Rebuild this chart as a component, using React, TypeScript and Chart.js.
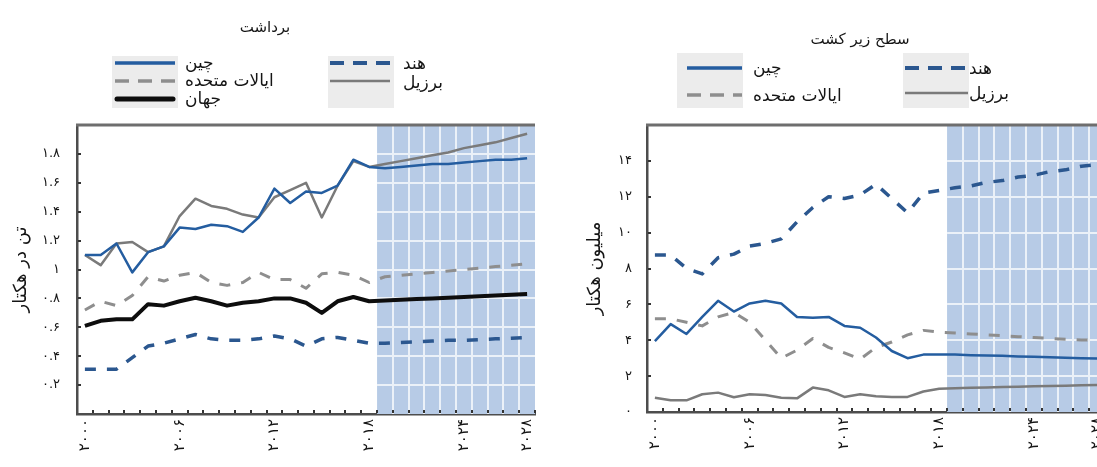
import React, { useEffect, useRef } from "react";
import { Chart, registerables } from "chart.js";

Chart.register(...registerables);

// ---------- data ----------
const years = [
  "2000", "2001", "2002", "2003", "2004", "2005", "2006", "2007", "2008", "2009",
  "2010", "2011", "2012", "2013", "2014", "2015", "2016", "2017", "2018", "2019",
  "2020", "2021", "2022", "2023", "2024", "2025", "2026", "2027", "2028",
];
const labeledYears = ["2000", "2006", "2012", "2018", "2024", "2028"];
const projectionStart = "2019";

const nameChina = "چین";
const nameIndia = "هند";
const nameUS = "ایالات متحده";
const nameBrazil = "برزیل";
const nameWorld = "جهان";

const titleYield = "برداشت";
const titleArea = "سطح زیر کشت";
const unitYield = "تن در هکتار";
const unitArea = "میلیون هکتار";

// yield, t/ha
const yieldChina = [1.10, 1.10, 1.18, 0.98, 1.12, 1.16, 1.29, 1.28, 1.31, 1.30, 1.26, 1.36, 1.56, 1.46, 1.54, 1.53, 1.58, 1.76, 1.71, 1.70, 1.71, 1.72, 1.73, 1.73, 1.74, 1.75, 1.76, 1.76, 1.77];
const yieldBrazil = [1.10, 1.03, 1.18, 1.19, 1.12, 1.16, 1.37, 1.49, 1.44, 1.42, 1.38, 1.36, 1.50, 1.55, 1.60, 1.36, 1.58, 1.75, 1.71, 1.73, 1.75, 1.77, 1.79, 1.81, 1.84, 1.86, 1.88, 1.91, 1.94];
const yieldUS = [0.72, 0.78, 0.75, 0.82, 0.95, 0.92, 0.96, 0.98, 0.91, 0.89, 0.91, 0.98, 0.93, 0.93, 0.87, 0.97, 0.98, 0.96, 0.91, 0.95, 0.96, 0.97, 0.98, 0.99, 1.00, 1.01, 1.02, 1.03, 1.04];
const yieldWorld = [0.61, 0.645, 0.655, 0.655, 0.76, 0.75, 0.78, 0.805, 0.78, 0.75, 0.77, 0.78, 0.80, 0.80, 0.77, 0.70, 0.78, 0.81, 0.78, 0.785, 0.79, 0.795, 0.80, 0.805, 0.81, 0.815, 0.82, 0.825, 0.83];
const yieldIndia = [0.31, 0.31, 0.31, 0.39, 0.47, 0.49, 0.52, 0.55, 0.52, 0.51, 0.51, 0.52, 0.54, 0.52, 0.47, 0.52, 0.53, 0.51, 0.49, 0.49, 0.495, 0.50, 0.505, 0.51, 0.51, 0.515, 0.52, 0.525, 0.53];

// area harvested, million ha
const areaChina = [3.95, 4.9, 4.35, 5.3, 6.2, 5.6, 6.05, 6.2, 6.05, 5.3, 5.25, 5.3, 4.8, 4.7, 4.15, 3.4, 3.0, 3.2, 3.2, 3.2, 3.17, 3.15, 3.13, 3.1, 3.08, 3.05, 3.03, 3.0, 2.98];
const areaIndia = [8.75, 8.75, 8.0, 7.7, 8.6, 8.8, 9.25, 9.4, 9.65, 10.6, 11.4, 12.0, 11.9, 12.1, 12.7, 11.9, 11.1, 12.2, 12.35, 12.5, 12.6, 12.8, 12.9, 13.1, 13.2, 13.4, 13.5, 13.7, 13.8];
const areaUS = [5.2, 5.2, 5.0, 4.8, 5.3, 5.55, 5.0, 4.0, 3.0, 3.45, 4.1, 3.6, 3.3, 2.95, 3.6, 3.9, 4.3, 4.55, 4.45, 4.4, 4.35, 4.3, 4.25, 4.2, 4.15, 4.1, 4.05, 4.02, 4.0];
const areaBrazil = [0.8, 0.65, 0.65, 0.99, 1.08, 0.82, 0.99, 0.95, 0.8, 0.76, 1.36, 1.21, 0.84, 0.99, 0.88, 0.84, 0.84, 1.14, 1.3, 1.33, 1.35, 1.37, 1.39, 1.41, 1.43, 1.45, 1.47, 1.49, 1.51];

// ---------- styles ----------
const FONT = "'DejaVu Sans', sans-serif";
const TEXT = "#151515";
type LineStyle = { color: string; width: number; dash: number[]; legendWidth: number; legendDash: number[] };
const STYLE: Record<string, LineStyle> = {
  china: { color: "#245da0", width: 2.5, dash: [], legendWidth: 3.5, legendDash: [] },
  india: { color: "#2b578f", width: 3.5, dash: [11, 11], legendWidth: 4, legendDash: [14, 9] },
  us: { color: "#8e8e8e", width: 3, dash: [11, 11], legendWidth: 3.5, legendDash: [14, 9] },
  brazil: { color: "#7a7a7a", width: 2.5, dash: [], legendWidth: 2.5, legendDash: [] },
  world: { color: "#0d0d0d", width: 4, dash: [], legendWidth: 5, legendDash: [] },
};

const fa = (s: string) => s.replace(/\d/g, (d) => "۰۱۲۳۴۵۶۷۸۹"[+d]);

const projectionPlugin = {
  id: "projection",
  beforeDatasetsDraw(chart: any, _a: any, opts: any) {
    const { ctx, chartArea } = chart;
    const x = chart.scales.x;
    const y = chart.scales.y;
    const labels: string[] = chart.data.labels;
    const s = labels.indexOf(opts.start);
    const x0 = (x.getPixelForValue(s - 1) + x.getPixelForValue(s)) / 2;
    ctx.save();
    ctx.fillStyle = opts.fill;
    ctx.fillRect(x0, chartArea.top, chartArea.right - x0, chartArea.bottom - chartArea.top);
    ctx.strokeStyle = opts.grid;
    ctx.lineWidth = 2;
    ctx.beginPath();
    for (let i = s + 1; i < labels.length; i++) {
      const px = Math.round((x.getPixelForValue(i - 1) + x.getPixelForValue(i)) / 2);
      ctx.moveTo(px, chartArea.top);
      ctx.lineTo(px, chartArea.bottom);
    }
    y.ticks.forEach((t: any) => {
      const py = Math.round(y.getPixelForValue(t.value));
      if (py > chartArea.top + 2 && py < chartArea.bottom - 2) {
        ctx.moveTo(x0, py);
        ctx.lineTo(chartArea.right, py);
      }
    });
    ctx.stroke();
    ctx.restore();
  },
  afterDraw(chart: any) {
    const { ctx, chartArea } = chart;
    const x = chart.scales.x;
    const y = chart.scales.y;
    const n = chart.data.labels.length;
    ctx.save();
    ctx.strokeStyle = "#6e6e6e";
    ctx.lineWidth = 3;
    ctx.beginPath();
    ctx.moveTo(chartArea.left - 1, chartArea.top);
    ctx.lineTo(chartArea.right, chartArea.top);
    ctx.stroke();
    ctx.fillStyle = "#333";
    for (let i = 1; i <= n; i++) {
      const px = i < n ? (x.getPixelForValue(i - 1) + x.getPixelForValue(i)) / 2 : chartArea.right;
      ctx.fillRect(Math.round(px) - 1, chartArea.bottom - 4, 2, 3);
    }
    y.ticks.forEach((t: any) => {
      const py = Math.round(y.getPixelForValue(t.value));
      if (py > chartArea.top + 2 && py < chartArea.bottom - 2) ctx.fillRect(chartArea.left + 1, py - 1, 3, 2);
    });
    ctx.restore();
  },
};

type Series = { name: string; data: number[]; style: LineStyle };

function buildConfig(p: {
  series: Series[];
  yMax: number;
  yStep: number;
  yTitle: string;
  titlePad: number;
  tickPad: number;
  showZero: boolean;
  bottomPad: number;
}) {
  return {
    type: "line",
    data: {
      labels: years,
      datasets: p.series.map((s) => ({
        label: s.name,
        data: s.data,
        borderColor: s.style.color,
        borderWidth: s.style.width,
        borderDash: s.style.dash,
        pointRadius: 0,
        fill: false,
        tension: 0,
        borderJoinStyle: "round",
      })),
    },
    options: {
      responsive: false,
      animation: false,
      events: [],
      layout: { padding: { left: 0, right: 13, top: 125, bottom: p.bottomPad } },
      plugins: {
        legend: { display: false },
        tooltip: { enabled: false },
        projection: { start: projectionStart, fill: "#b7cbe6", grid: "rgba(255,255,255,0.72)" },
      },
      scales: {
        x: {
          type: "category",
          offset: true,
          grid: { display: false, drawTicks: false },
          border: { display: true, color: "#4d4d4d", width: 2.5 },
          ticks: {
            autoSkip: false,
            minRotation: 90,
            maxRotation: 90,
            padding: 5,
            color: TEXT,
            font: { family: FONT, size: 15 },
            callback: (_v: any, index: number) => (labeledYears.includes(years[index]) ? fa(years[index]) : ""),
          },
          afterFit: (scale: any) => {
            scale.height = 50;
            scale.paddingLeft = 0;
            scale.paddingRight = 0;
          },
        },
        y: {
          min: 0,
          max: p.yMax,
          grid: { display: false, drawTicks: false },
          border: { display: true, color: "#4d4d4d", width: 2.5 },
          ticks: {
            stepSize: p.yStep,
            padding: p.tickPad,
            color: TEXT,
            font: { family: FONT, size: 13 },
            callback: (v: number) => {
              const r = Math.round(v * 10) / 10;
              if (r >= p.yMax - 1e-9) return "";
              if (r === 0 && !p.showZero) return "";
              return fa(String(r));
            },
          },
          title: {
            display: true,
            text: p.yTitle,
            color: TEXT,
            font: { family: FONT, size: 18 },
            padding: { top: p.titlePad, bottom: 0 },
          },
          afterFit: (scale: any) => {
            scale.width = 77;
            scale.paddingTop = 0;
            scale.paddingBottom = 0;
          },
        },
      },
    },
    plugins: [projectionPlugin],
  } as any;
}

function LegendLine(props: { x1: number; x2: number; y: number; st: LineStyle }) {
  const { x1, x2, y, st } = props;
  const w = x2 - x1;
  return (
    <svg style={{ position: "absolute", left: x1, top: y - 6, overflow: "visible" }} width={w} height={12}>
      <line
        x1={0}
        y1={6}
        x2={w}
        y2={6}
        stroke={st.color}
        strokeWidth={st.legendWidth}
        strokeDasharray={st.legendDash.length ? st.legendDash.join(" ") : undefined}
        strokeLinecap={st === STYLE.world ? "round" : "butt"}
      />
    </svg>
  );
}

function Label(props: { x: number; y: number; text: string; size?: number }) {
  return (
    <span
      dir="rtl"
      style={{
        position: "absolute",
        left: props.x,
        top: props.y - 10,
        lineHeight: "20px",
        fontSize: props.size || 17,
        whiteSpace: "nowrap",
        color: TEXT,
      }}
    >
      {props.text}
    </span>
  );
}

function Title(props: { cx: number; y: number; text: string }) {
  return (
    <div
      dir="rtl"
      style={{
        position: "absolute",
        left: props.cx - 150,
        width: 300,
        top: props.y - 10,
        lineHeight: "20px",
        fontSize: 15,
        textAlign: "center",
        color: TEXT,
      }}
    >
      {props.text}
    </div>
  );
}

function Box(props: { x: number; y: number; w: number; h: number }) {
  return <div style={{ position: "absolute", left: props.x, top: props.y, width: props.w, height: props.h, background: "#ececec" }} />;
}

export default function App() {
  const leftRef = useRef<HTMLCanvasElement>(null);
  const rightRef = useRef<HTMLCanvasElement>(null);

  useEffect(() => {
    const left = new Chart(
      leftRef.current as HTMLCanvasElement,
      buildConfig({
        series: [
          { name: nameChina, data: yieldChina, style: STYLE.china },
          { name: nameBrazil, data: yieldBrazil, style: STYLE.brazil },
          { name: nameWorld, data: yieldWorld, style: STYLE.world },
          { name: nameUS, data: yieldUS, style: STYLE.us },
          { name: nameIndia, data: yieldIndia, style: STYLE.india },
        ],
        yMax: 2,
        yStep: 0.2,
        yTitle: unitYield,
        titlePad: 11,
        tickPad: 17,
        showZero: false,
        bottomPad: 3,
      })
    );
    const right = new Chart(
      rightRef.current as HTMLCanvasElement,
      buildConfig({
        series: [
          { name: nameChina, data: areaChina, style: STYLE.china },
          { name: nameIndia, data: areaIndia, style: STYLE.india },
          { name: nameUS, data: areaUS, style: STYLE.us },
          { name: nameBrazil, data: areaBrazil, style: STYLE.brazil },
        ],
        yMax: 16,
        yStep: 2,
        yTitle: unitArea,
        titlePad: 15,
        tickPad: 15,
        showZero: true,
        bottomPad: 5,
      })
    );
    return () => {
      left.destroy();
      right.destroy();
    };
  }, []);

  return (
    <div
      style={{
        position: "fixed",
        left: 0,
        top: 0,
        width: 1097,
        height: 467,
        overflow: "hidden",
        background: "#fff",
        fontFamily: FONT,
      }}
    >
      <div style={{ position: "absolute", left: 0, top: 0 }}>
        <canvas ref={leftRef} width={548} height={467} style={{ display: "block" }} />
      </div>
      <div style={{ position: "absolute", left: 570, top: 0 }}>
        <canvas ref={rightRef} width={548} height={467} style={{ display: "block" }} />
      </div>

      {/* left legend */}
      <Title cx={265} y={27} text={titleYield} />
      <Box x={112} y={56} w={66} h={52} />
      <Box x={328} y={56} w={66} h={52} />
      <LegendLine x1={115} x2={175} y={63} st={STYLE.china} />
      <Label x={185} y={62} text={nameChina} />
      <LegendLine x1={115} x2={175} y={81} st={STYLE.us} />
      <Label x={185} y={80} text={nameUS} />
      <LegendLine x1={117} x2={173} y={99} st={STYLE.world} />
      <Label x={185} y={98} text={nameWorld} />
      <LegendLine x1={330} x2={390} y={63} st={STYLE.india} />
      <Label x={403} y={63} text={nameIndia} />
      <LegendLine x1={330} x2={390} y={81} st={STYLE.brazil} />
      <Label x={403} y={82} text={nameBrazil} />

      {/* right legend */}
      <Title cx={860} y={39} text={titleArea} />
      <Box x={677} y={53} w={66} h={55} />
      <Box x={903} y={53} w={66} h={55} />
      <LegendLine x1={687} x2={742} y={68} st={STYLE.china} />
      <Label x={753} y={67} text={nameChina} />
      <LegendLine x1={687} x2={742} y={95} st={STYLE.us} />
      <Label x={753} y={95} text={nameUS} />
      <LegendLine x1={905} x2={968} y={68} st={STYLE.india} />
      <Label x={969} y={68} text={nameIndia} />
      <LegendLine x1={905} x2={968} y={93} st={STYLE.brazil} />
      <Label x={969} y={93} text={nameBrazil} />
    </div>
  );
}
